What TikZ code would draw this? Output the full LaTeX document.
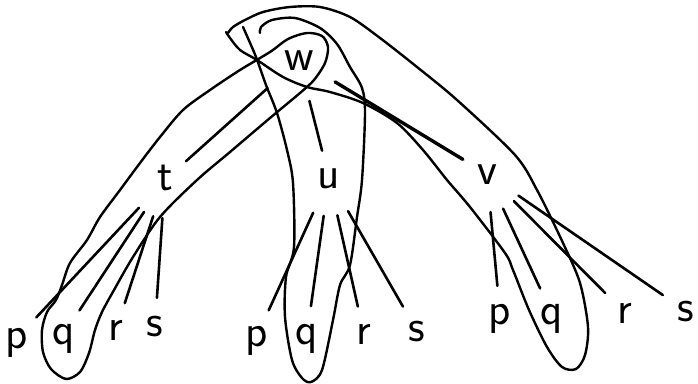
\documentclass[tikz,border=0pt]{standalone}
\usepackage{fontspec}
\usepackage{tikz}
\usetikzlibrary{positioning, calc}
\tikzset{
  letter/.style={
    circle, draw=none, inner sep=0pt, minimum size=56pt,
    font=\fontsize{46}{48}\selectfont\sffamily,
    text height=20pt, text depth=0pt
  },
  root/.style={letter, minimum size=84pt},
  every edge/.style={draw, line width=2.6pt, line cap=round},
  leaf edge/.style={shorten <=10pt},
  ring/.style={draw, line width=2.4pt, line cap=round, line join=round},
}
\begin{document}
\begin{tikzpicture}[x=1pt, y=-1pt]
  \useasboundingbox (0,0) rectangle (698,383);

  % tree
  \node[root] (w) at (299,60) {w};
  \node[letter] (t) at (165,180) {t};
  \node[letter] (u) at (329,178) {u};
  \node[letter] (v) at (487,174) {v};

  \node[letter] (tp) at (17,338) {p};
  \node[letter] (tq) at (64,334) {q};
  \node[letter] (tr) at (116,330) {r};
  \node[letter] (ts) at (155,326) {s};

  \node[letter] (up) at (257,336) {p};
  \node[letter] (uq) at (307,334) {q};
  \node[letter] (ur) at (364,334) {r};
  \node[letter] (us) at (417,331) {s};

  \node[letter] (vp) at (500,314) {p};
  \node[letter] (vq) at (552,314) {q};
  \node[letter] (vr) at (625,313) {r};
  \node[letter] (vs) at (686,311) {s};

  \path (w) edge (t)
        (w) edge (u)
        (w) edge[line width=3.4pt] (v);
  \foreach \n in {t,u,v}
    \foreach \c in {p,q,r,s}
      \path (\n) edge[leaf edge] (\n\c);

  % loops round w-t-q, w-u-q, w-v-q
  \draw[ring] plot[smooth cycle, tension=0.5] coordinates {
    (270,52) (240,70) (210,90) (183,110) (160,137) (140,163) (120,190)
    (100,217) (87,240) (70,263) (62,285) (56,300) (47,312) (42,330)
    (43,352) (51,369) (66,379) (80,372) (89,353) (95,330) (102,312)
    (114,290) (133,257) (160,217) (197,180) (230,152) (270,118) (300,93)
    (314,80) (325,63) (328,47) (322,36) (307,33) (288,39)};
  \draw[ring] plot[smooth, tension=0.5] coordinates {
    (243,27) (247,36) (256,57) (266,85) (277,113) (287,150) (293,183)
    (294,247) (286,277) (285,317) (292,360) (302,378) (311,382) (322,370)
    (333,320) (340,285) (350,265) (357,217) (362,180) (365,113) (362,88)
    (350,67) (337,44) (320,28) (295,18) (272,20) (261,27) (260,33)};
  \draw[ring] plot[smooth, tension=0.5] coordinates {
    (228,33) (233,27) (245,20) (263,12) (290,7) (320,7) (350,17) (380,38)
    (417,67) (457,100) (515,155) (537,190) (563,243) (580,283) (588,327)
    (585,355) (576,369) (562,367) (547,347) (529,310) (513,270) (505,253)
    (470,207) (447,180) (423,150) (397,123) (363,103) (330,92) (307,87)
    (283,77) (257,60) (240,50) (230,38) (226,32)};
\end{tikzpicture}
\end{document}
